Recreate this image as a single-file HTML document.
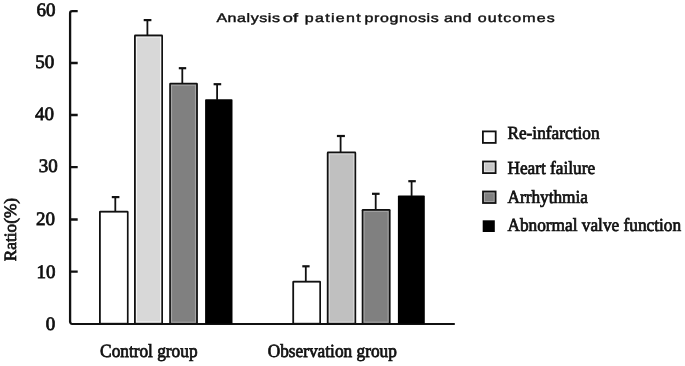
<!DOCTYPE html>
<html><head><meta charset="utf-8">
<style>
html,body{margin:0;padding:0;background:#fff;}
body{width:685px;height:366px;overflow:hidden;}
svg{display:block;filter:grayscale(1);text-rendering:geometricPrecision;}
.s{font-family:"Liberation Serif",serif;fill:#111;stroke:#111;stroke-width:0.7px;}
.t{font-family:"Liberation Sans",sans-serif;fill:#111;stroke:#111;stroke-width:0.4px;}
</style></head><body>
<svg width="685" height="366" viewBox="0 0 685 366">
<rect width="685" height="366" fill="#fff"/>
<!-- axes -->
<g stroke="#111" stroke-width="2.3" fill="none" stroke-linejoin="round">
<path d="M77.7 11.1 H72.2 Q70.1 11.1 70.1 13.2 V322.6"/>
<path d="M70.1 321.8 Q70.1 323.9 72.2 323.9 H454.8" stroke-width="2.0"/>
<path d="M70.1 63 H77.7 M70.1 115 H77.7 M70.1 167.2 H77.7 M70.1 219.5 H77.7 M70.1 271.6 H77.7"/>
</g>
<!-- y tick labels -->
<g class="s" font-size="19" text-anchor="end" style="stroke-width:0.75px">
<text x="55.4" y="15.8">60</text>
<text x="54.2" y="67.7">50</text>
<text x="54" y="119.7">40</text>
<text x="57.8" y="171.9">30</text>
<text x="55" y="224.9">20</text>
<text x="55.4" y="278.4">10</text>
<text x="55.3" y="330.2">0</text>
</g>
<text class="s" font-size="17.3" text-anchor="middle" transform="translate(16.3 229.6) rotate(-90)">Ratio(%)</text>

<!-- bars -->
<g id="bars">
<rect x="99.0" y="210.8" width="29.6" height="113.0" rx="1.3" fill="#111"/>
<rect x="100.8" y="212.6" width="26.1" height="110.2" fill="#fff"/>
<rect x="134.0" y="34.6" width="29.0" height="289.2" rx="1.3" fill="#111"/>
<rect x="135.8" y="36.4" width="25.5" height="286.4" fill="#f4f4f4"/>
<rect x="137.1" y="37.6" width="22.9" height="283.8" fill="#d8d8d8"/>
<rect x="169.2" y="82.7" width="28.7" height="241.1" rx="1.3" fill="#111"/>
<rect x="170.9" y="84.5" width="25.2" height="238.4" fill="#a4a4a4"/>
<rect x="172.1" y="85.7" width="22.8" height="236.0" fill="#808080"/>
<rect x="205.1" y="99.2" width="27.4" height="224.6" rx="0.8" fill="#000"/>
<rect x="292.3" y="280.8" width="28.7" height="43.0" rx="1.3" fill="#111"/>
<rect x="294.1" y="282.6" width="25.2" height="40.2" fill="#fff"/>
<rect x="326.8" y="151.6" width="29.4" height="172.2" rx="1.3" fill="#111"/>
<rect x="328.6" y="153.3" width="25.9" height="169.5" fill="#e2e2e2"/>
<rect x="329.7" y="154.4" width="23.7" height="167.3" fill="#c0c0c0"/>
<rect x="361.7" y="209.0" width="28.9" height="114.8" rx="1.3" fill="#111"/>
<rect x="363.4" y="210.8" width="25.4" height="112.1" fill="#a4a4a4"/>
<rect x="364.6" y="211.9" width="23.0" height="109.7" fill="#808080"/>
<rect x="397.9" y="195.6" width="26.9" height="128.2" rx="0.8" fill="#000"/>
</g>
<!-- error bars -->
<g stroke="#111" fill="none">
<path d="M115.3 211 V197.1" stroke-width="1.8"/><path d="M111.8 197.1 H119.4" stroke-width="2.2"/>
<path d="M147.4 35 V20.1" stroke-width="1.8"/><path d="M143.7 20.1 H151.4" stroke-width="2.2"/>
<path d="M182.3 83 V68.2" stroke-width="1.8"/><path d="M178.8 68.2 H186.2" stroke-width="2.2"/>
<path d="M217.1 100 V84.2" stroke-width="1.8"/><path d="M213.6 84.2 H221.2" stroke-width="2.2"/>
<path d="M305.8 281 V266.3" stroke-width="1.8"/><path d="M302.3 266.3 H309.6" stroke-width="2.2"/>
<path d="M340.6 152 V136.0" stroke-width="1.8"/><path d="M336.9 136.0 H344.9" stroke-width="2.2"/>
<path d="M375.7 209 V193.8" stroke-width="1.8"/><path d="M372.0 193.8 H379.6" stroke-width="2.2"/>
<path d="M411.6 196 V181.2" stroke-width="1.8"/><path d="M408.3 181.2 H415.8" stroke-width="2.2"/>
</g>

<!-- x labels -->
<g class="s" font-size="17.3">
<text transform="translate(100.1 356.6) scale(1 1.08)">Control group</text>
<text transform="translate(267.7 356.5) scale(1 1.08)">Observation group</text>
</g>

<!-- legend -->
<g id="legend">
<rect x="482.0" y="130.5" width="14.6" height="13.3" fill="#111"/>
<rect x="483.8" y="132.3" width="11.0" height="9.7" fill="#fff"/>
<rect x="482.1" y="160.6" width="14.4" height="13.4" fill="#111"/>
<rect x="483.9" y="162.4" width="10.8" height="9.8" fill="#e6e6e6"/>
<rect x="484.9" y="163.4" width="8.8" height="7.8" fill="#c8c8c8"/>
<rect x="482.1" y="190.6" width="14.4" height="13.3" fill="#111"/>
<rect x="483.9" y="192.4" width="10.8" height="9.7" fill="#a8a8a8"/>
<rect x="484.9" y="193.4" width="8.8" height="7.7" fill="#808080"/>
<rect x="482.7" y="220.3" width="12.1" height="11.7" fill="#000"/>
</g>
<g class="s" font-size="17.3">
<text transform="translate(507.4 139.4) scale(1 1.07)">Re-infarction</text>
<text transform="translate(507.4 174.1) scale(1 1.07)">Heart failure</text>
<text transform="translate(507.4 202.9) scale(1 1.07)">Arrhythmia</text>
<text transform="translate(507.4 230.7) scale(1 1.07)">Abnormal valve function</text>
</g>

<!-- title -->
<g class="t" font-size="12.3">
<text transform="translate(216.4 21.6) scale(1.3 1)" textLength="48.85" lengthAdjust="spacing">Analysis</text>
<text transform="translate(282.8 21.6) scale(1.3 1)" textLength="11.69" lengthAdjust="spacingAndGlyphs">of</text>
<text transform="translate(304.7 21.6) scale(1.3 1)" textLength="43.08" lengthAdjust="spacing">patient</text>
<text transform="translate(364.4 21.6) scale(1.3 1)" textLength="57.23" lengthAdjust="spacing">prognosis</text>
<text transform="translate(443.9 21.6) scale(1.3 1)" textLength="21.23" lengthAdjust="spacing">and</text>
<text transform="translate(477.7 21.6) scale(1.3 1)" textLength="59.31" lengthAdjust="spacing">outcomes</text>
</g>
</svg>
</body></html>
